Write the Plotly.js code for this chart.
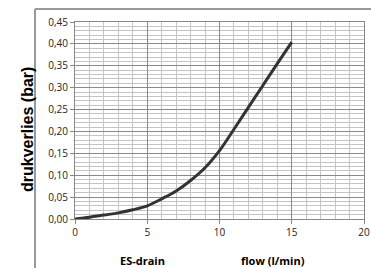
<!DOCTYPE html>
<html><head><meta charset="utf-8">
<script src="https://cdn.plot.ly/plotly-3.0.1.min.js"></script>
<style>html,body{margin:0;padding:0;background:#fff;}#c{width:371px;height:268px;}</style>
</head><body><div id="c"></div>
<script>
const flow = [0,1,2,3,4,5,6,7,8,9,10,11,12,13,14,15];
const pressure = [0,0.004,0.009,0.014,0.021,0.030,0.046,0.064,0.088,0.117,0.156,0.205,0.255,0.305,0.355,0.404];
const xTitleLeft = 'ES-drain';
const xTitleRight = 'flow (l/min)';
const yTitle = 'drukverlies (bar)';

const W=371,H=268, L=75, R=7, T=22, B=49;
const pw=W-L-R, ph=H-T-B;
const px = x => (x-L)/pw, py = y => 1-(y-T)/ph;

Plotly.newPlot('c',[{
  x: flow, y: pressure, type:'scatter', mode:'lines',
  line:{color:'#333333', width:3, shape:'spline', smoothing:1}, hoverinfo:'skip'
}],{
  width:W, height:H, margin:{l:L,r:R,t:T,b:B},
  paper_bgcolor:'#fff', plot_bgcolor:'#fff', showlegend:false,
  separators:',.',
  font:{family:'Open Sans, sans-serif', size:10, color:'#222'},
  xaxis:{range:[0,20], dtick:5, tick0:0, zeroline:false,
    showline:true, mirror:true, linecolor:'#888', linewidth:1,
    ticks:'outside', ticklen:4, tickcolor:'#888',
    showgrid:true, gridcolor:'#8a8a8a', gridwidth:1,
    minor:{dtick:1, showgrid:true, gridcolor:'#c4c4c4', gridwidth:1, ticks:''},
    tickfont:{size:10}},
  yaxis:{range:[0,0.45], dtick:0.05, tick0:0, tickformat:'.2f', zeroline:false,
    showline:true, mirror:true, linecolor:'#888', linewidth:1,
    ticks:'outside', ticklen:4, tickcolor:'#888',
    showgrid:true, gridcolor:'#8a8a8a', gridwidth:1,
    minor:{dtick:0.01, showgrid:true, gridcolor:'#c4c4c4', gridwidth:1, ticks:''},
    tickfont:{size:10}},
  annotations:[
    {text:'<b>'+yTitle+'</b>', textangle:-90, xref:'paper', yref:'paper', x:px(27), y:py(130), xanchor:'center', yanchor:'middle', showarrow:false,
     font:{size:16, family:'Liberation Sans, Arial, sans-serif', color:'#000'}},
    {text:'<b>'+xTitleLeft+'</b>', xref:'paper', yref:'paper', x:px(142), y:py(260), xanchor:'center', yanchor:'middle', showarrow:false, font:{size:11,color:'#000'}},
    {text:'<b>'+xTitleRight+'</b>', xref:'paper', yref:'paper', x:px(273), y:py(260), xanchor:'center', yanchor:'middle', showarrow:false, font:{size:11,color:'#000'}}
  ],
  shapes:[
    {type:'line', xref:'paper', yref:'paper', x0:px(35), x1:px(372), y0:py(9), y1:py(9), line:{color:'#999', width:2}},
    {type:'line', xref:'paper', yref:'paper', x0:px(35), x1:px(35), y0:py(9), y1:py(270), line:{color:'#999', width:2}}
  ]
},{staticPlot:true});
</script></body></html>
